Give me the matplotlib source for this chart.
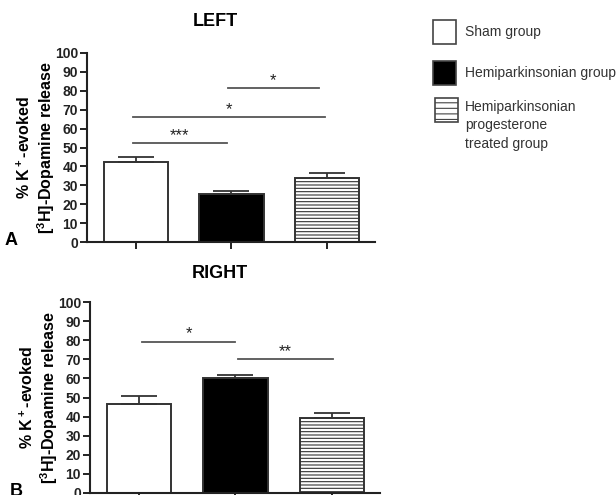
import matplotlib
matplotlib.use("Agg")
import matplotlib.pyplot as plt
from matplotlib.patches import Rectangle

plt.rcParams['font.family'] = ['Liberation Sans', 'DejaVu Sans']
plt.rcParams['mathtext.fontset'] = 'custom'
plt.rcParams['mathtext.rm'] = 'Liberation Sans:bold'
plt.rcParams['mathtext.bf'] = 'Liberation Sans:bold'
plt.rcParams['mathtext.default'] = 'rm'
plt.rcParams['hatch.linewidth'] = 0.8
plt.rcParams['hatch.color'] = '#666666'

# data
groups = ['Sham group', 'Hemiparkinsonian group',
          'Hemiparkinsonian\nprogesterone\ntreated group']
yticks = [0, 10, 20, 30, 40, 50, 60, 70, 80, 90, 100]

left_mean = [42.5, 25.5, 34.0]
left_sem = [2.6, 1.6, 2.3]
right_mean = [46.4, 60.0, 39.4]
right_sem = [4.4, 2.0, 2.6]

# significance brackets: start, end, height, label
left_sig_x0 = [-0.03, -0.03, 0.96]
left_sig_x1 = [0.95, 1.98, 1.91]
left_sig_y = [52.2, 66.0, 81.3]
left_sig_lab = ['***', '*', '*']

right_sig_x0 = [0.03, 1.03]
right_sig_x1 = [1.0, 2.01]
right_sig_y = [79.2, 70.0]
right_sig_lab = ['*', '**']

faces = ['white', 'black', 'white']
hatches = [None, None, '-----']
ylab = '% K$^+$-evoked\n[$^3$H]-Dopamine release'


def draw_panel(ax, means, sems, sx0, sx1, sy, slab):
    x = range(len(means))
    for i in x:
        ax.bar(i, means[i], width=0.67, color=faces[i], edgecolor='#333333',
               linewidth=1.4, hatch=hatches[i], zorder=2)
    ax.errorbar(list(x), means, yerr=[[0] * len(sems), sems], fmt='none',
                ecolor='#333333', elinewidth=1.3, capsize=13, capthick=1.3,
                zorder=3)
    for a, b, h, lab in zip(sx0, sx1, sy, slab):
        ax.plot([a, b], [h, h], color='#555555', lw=1.3, zorder=1)
        ax.text((a + b) / 2, h + 1.8, lab, ha='center', va='baseline',
                fontsize=12, color='#222222')
    ax.set_xlim(-0.51, 2.5)
    ax.set_ylim(0, 100)
    ax.set_yticks(yticks)
    ax.set_xticks(list(x))
    ax.set_xticklabels([])
    for s in ['top', 'right']:
        ax.spines[s].set_visible(False)
    for s in ['left', 'bottom']:
        ax.spines[s].set_linewidth(1.5)
        ax.spines[s].set_color('#222222')
    ax.tick_params(axis='both', direction='out', length=5, width=1.4,
                   colors='#222222', pad=1.5)
    for t in ax.get_yticklabels():
        t.set_fontsize(10)
        t.set_fontweight('bold')
    ax.set_ylabel(ylab, fontsize=11.5, fontweight='bold', linespacing=1.1)
    ax.yaxis.set_label_coords(-0.105, 0.5)


fig = plt.figure(figsize=(6.16, 4.95), dpi=100)
W, H = 616.0, 495.0

ax1 = fig.add_axes([87 / W, 1 - 242 / H, 288 / W, 189 / H])
draw_panel(ax1, left_mean, left_sem, left_sig_x0, left_sig_x1, left_sig_y,
           left_sig_lab)
ax2 = fig.add_axes([90 / W, 1 - 493 / H, 290 / W, 191 / H])
draw_panel(ax2, right_mean, right_sem, right_sig_x0, right_sig_x1,
           right_sig_y, right_sig_lab)

fig.text(215 / W, 1 - 22 / H, 'LEFT', ha='center', va='center',
         fontsize=13, fontweight='bold')
fig.text(220 / W, 1 - 273 / H, 'RIGHT', ha='center', va='center',
         fontsize=13, fontweight='bold')
fig.text(5 / W, 1 - 245 / H, 'A', ha='left', va='baseline',
         fontsize=13, fontweight='bold')
fig.text(10 / W, 1 - 496 / H, 'B', ha='left', va='baseline',
         fontsize=13, fontweight='bold')

# legend drawn in figure pixel coordinates
leg_box_y = [20, 61, 98]
leg_box_x = [433, 433, 435]
leg_text_y = [32, 73, 100]
for i in range(3):
    r = Rectangle((leg_box_x[i] / W, 1 - (leg_box_y[i] + 24) / H), 23 / W,
                  24 / H, transform=fig.transFigure, facecolor=faces[i],
                  edgecolor='#444444', linewidth=1.2,
                  hatch='---' if hatches[i] else None)
    fig.add_artist(r)
    fig.text(465 / W, 1 - leg_text_y[i] / H, groups[i], ha='left',
             va='center' if i < 2 else 'top', fontsize=10, color='#333333',
             linespacing=1.4)

fig.savefig('out.png', dpi=100)
